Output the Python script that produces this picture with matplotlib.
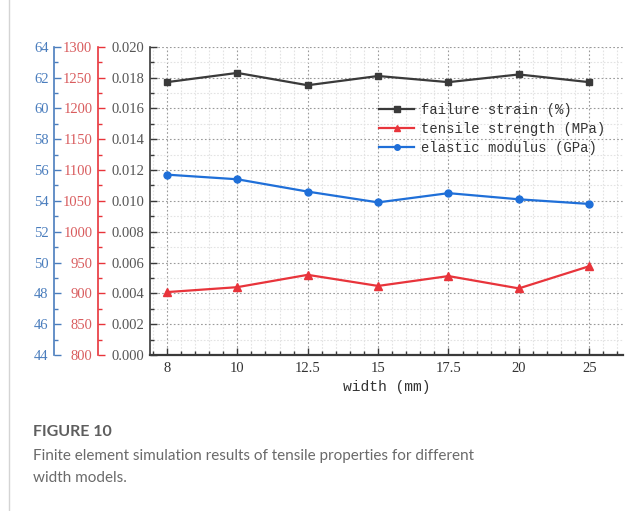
import matplotlib
matplotlib.use('Agg')
import matplotlib.pyplot as plt
from matplotlib.ticker import MultipleLocator, FormatStrFormatter

# 宽度分类及三组仿真结果
widths = ['8', '10', '12.5', '15', '17.5', '20', '25']
failure_strain = [0.0177, 0.0183, 0.0175, 0.0181, 0.0177, 0.0182, 0.0177]
tensile_strength = [902, 910, 930, 912, 928, 908, 944]
elastic_modulus = [55.7, 55.4, 54.6, 53.9, 54.5, 54.1, 53.8]

labels = ['failure strain (%)', 'tensile strength (MPa)', 'elastic modulus (GPa)']

mono = 'Liberation Mono'
serif = 'Liberation Serif'
blackC = '#3a3a3a'
redC = '#e8343b'
blueC = '#1f6fd8'
blueAx = '#4a7dbd'
redAx = '#d95c5e'
tickfs = 10.5

fig = plt.figure(figsize=(6.41, 5.11), dpi=100)
ax = fig.add_axes([0.234, 0.3053, 0.738, 0.6033])
x = list(range(len(widths)))

# 主轴：失效应变
ax.set_ylim(0, 0.020)
ax.set_xlim(-0.24, 6.48)
ax.yaxis.set_major_locator(MultipleLocator(0.002))
ax.yaxis.set_minor_locator(MultipleLocator(0.001))
ax.yaxis.set_major_formatter(FormatStrFormatter('%.3f'))
ax.xaxis.set_major_locator(MultipleLocator(1))
ax.xaxis.set_minor_locator(MultipleLocator(0.2))
ax.set_xticks(x)
ax.set_xticklabels(widths)
ax.grid(which='major', color='#9a9a9a', linestyle=(0, (1.5, 2)), linewidth=0.8)
ax.grid(which='minor', color='#e3e3e3', linestyle=(0, (1.5, 1.5)), linewidth=0.8)
ax.set_axisbelow(True)
for s in ['top', 'right']:
    ax.spines[s].set_visible(False)
ax.spines['left'].set_color(blackC)
ax.spines['bottom'].set_color(blackC)
ax.spines['bottom'].set_linewidth(1.6)
ax.spines['left'].set_linewidth(1.2)
ax.tick_params(axis='both', which='both', direction='in', colors=blackC)
ax.tick_params(axis='both', which='major', length=5, width=1)
ax.tick_params(axis='both', which='minor', length=3, width=1)
ax.tick_params(axis='y', labelsize=tickfs, labelcolor='#555555', pad=4)
ax.tick_params(axis='x', labelsize=tickfs, labelcolor='#333333', pad=5)
for t in ax.get_xticklabels() + ax.get_yticklabels():
    t.set_fontfamily(serif)
ax.set_xlabel('width (mm)', fontfamily=mono, fontsize=10.5, color='#333333', labelpad=4)

l1, = ax.plot(x, failure_strain, color=blackC, marker='s', markersize=5, linewidth=1.6, zorder=5)

# 抗拉强度轴
ax2 = ax.twinx()
ax2.set_ylim(800, 1300)
ax2.yaxis.set_major_locator(MultipleLocator(50))
ax2.yaxis.set_minor_locator(MultipleLocator(25))
ax2.spines['right'].set_visible(False)
ax2.spines['top'].set_visible(False)
ax2.spines['bottom'].set_visible(False)
ax2.spines['left'].set_visible(True)
ax2.spines['left'].set_position(('axes', -0.11))
ax2.spines['left'].set_color(redC)
ax2.spines['left'].set_linewidth(1.2)
ax2.yaxis.set_ticks_position('left')
ax2.yaxis.set_label_position('left')
ax2.tick_params(axis='y', which='both', direction='in', colors=redC, labelcolor=redAx, labelsize=tickfs, pad=4)
ax2.tick_params(axis='y', which='major', length=5, width=1)
ax2.tick_params(axis='y', which='minor', length=3, width=1)
for t in ax2.get_yticklabels():
    t.set_fontfamily(serif)
l2, = ax2.plot(x, tensile_strength, color=redC, marker='^', markersize=6, linewidth=1.6, zorder=5)

# 弹性模量轴
ax3 = ax.twinx()
ax3.set_ylim(44, 64)
ax3.yaxis.set_major_locator(MultipleLocator(2))
ax3.yaxis.set_minor_locator(MultipleLocator(1))
ax3.spines['right'].set_visible(False)
ax3.spines['top'].set_visible(False)
ax3.spines['bottom'].set_visible(False)
ax3.spines['left'].set_visible(True)
ax3.spines['left'].set_position(('axes', -0.203))
ax3.spines['left'].set_color(blueAx)
ax3.spines['left'].set_linewidth(1.2)
ax3.yaxis.set_ticks_position('left')
ax3.yaxis.set_label_position('left')
ax3.tick_params(axis='y', which='both', direction='in', colors=blueAx, labelcolor=blueAx, labelsize=tickfs, pad=4)
ax3.tick_params(axis='y', which='major', length=5, width=1)
ax3.tick_params(axis='y', which='minor', length=3, width=1)
for t in ax3.get_yticklabels():
    t.set_fontfamily(serif)
l3, = ax3.plot(x, elastic_modulus, color=blueC, marker='o', markersize=5, linewidth=1.6, zorder=5)

leg = ax3.legend([l1, l2, l3], labels, loc='upper left', bbox_to_anchor=(0.47, 0.84),
                 frameon=False, prop={'family': mono, 'size': 10}, handlelength=2.5,
                 handletextpad=0.5, labelspacing=0.35, borderpad=0, markerscale=0.8)
for t in leg.get_texts():
    t.set_color('#333333')

# 图注
fig.text(0.052, 0.155, 'FIGURE 10', fontfamily='Lato', fontweight='bold', fontsize=11.5,
         color='#5e5e5e', va='center')
fig.text(0.052, 0.108, 'Finite element simulation results of tensile properties for different',
         fontfamily='Lato', fontsize=11, color='#6a6a6a', va='center')
fig.text(0.052, 0.064, 'width models.', fontfamily='Lato', fontsize=11, color='#6a6a6a', va='center')

# 左侧边框线
fig.add_artist(plt.Line2D([0.0135, 0.0135], [0, 1], transform=fig.transFigure, color='#d4d4d4', linewidth=1))

plt.savefig('out.png', dpi=100)
